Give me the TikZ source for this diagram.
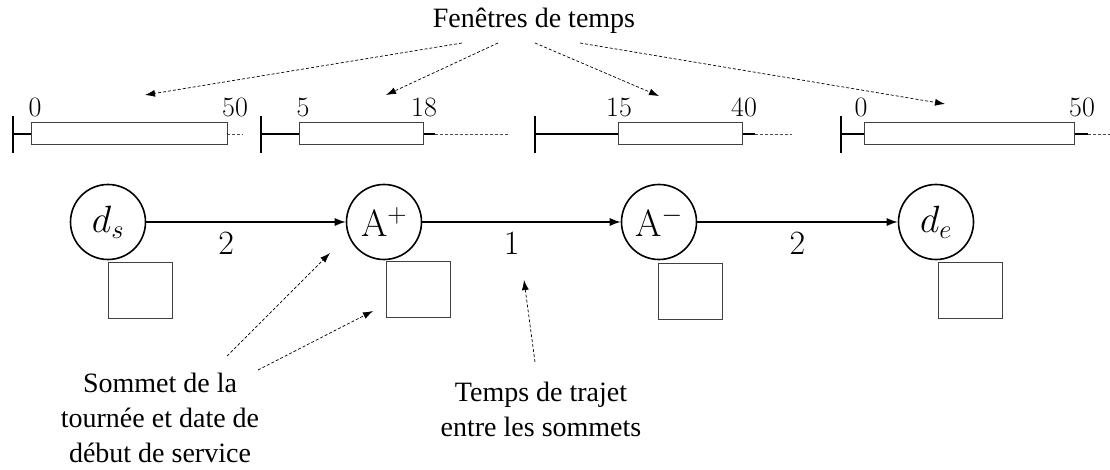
\RequirePackage{fix-cm}
\documentclass[tikz,border=0pt]{standalone}
\usepackage{fontspec}
\newfontfamily\tnr{Liberation Serif}
\usetikzlibrary{arrows.meta}
\begin{document}
\begin{tikzpicture}[x=1pt,y=-1pt,
  vertex/.style={circle, draw, line width=1.6pt, minimum size=75pt, inner sep=0pt, font=\fontsize{38}{42}\selectfont},
  datebox/.style={draw=black!75, line width=1pt, minimum width=64pt, minimum height=56pt, inner sep=0pt, anchor=north west},
  winbox/.style={draw=black!75, line width=1pt, minimum height=22pt, inner sep=0pt, anchor=west},
  wlabel/.style={font=\fontsize{28}{30}\selectfont, anchor=base, inner sep=0pt},
  note/.style={font=\tnr\fontsize{28}{35}\selectfont, align=center, anchor=base, inner sep=0pt},
  pointer/.style={dash pattern=on 3pt off 2pt, line width=0.7pt, -{Latex[length=10pt,width=7pt]}},
  flow/.style={line width=1.2pt, -{Latex[length=11pt,width=8pt]}},
  tickline/.style={line width=1.4pt},
  stem/.style={line width=1.2pt},
  tail/.style={line width=0.8pt, dash pattern=on 3pt off 2pt, draw=black!70},
  cost/.style={font=\fontsize{34}{38}\selectfont, inner sep=0pt}
]
\useasboundingbox (0,0) rectangle (1110,470);

% time windows
\foreach \i/\t/\l/\r/\s/\d in {1/13/31/227/227/243, 2/261/299/423/435/508, 3/535/618/742/755/792, 4/841/864/1074/1088/1110}{
  \coordinate (t\i) at (\t,134);
  \coordinate (ts\i) at (\t,116);
  \coordinate (te\i) at (\t,153);
  \pgfmathsetmacro{\w}{\r-\l}
  \node[winbox, minimum width=\w pt] (w\i) at (\l,134) {};
  \coordinate (s\i) at (\s,134);
  \coordinate (d\i) at (\d,134);
  \draw[tickline] (ts\i) -- (te\i);
  \draw[stem] (t\i) -- (w\i.west);
  \draw[stem] (w\i.east) -- (s\i);
  \draw[tail] (s\i) -- (d\i);
}
\node[wlabel] (l1a) at (35,117) {0};
\node[wlabel] (l1b) at (235,117) {50};
\node[wlabel] (l2a) at (303,117) {5};
\node[wlabel] (l2b) at (424,117) {18};
\node[wlabel] (l3a) at (619,117) {15};
\node[wlabel] (l3b) at (744,117) {40};
\node[wlabel] (l4a) at (861,117) {0};
\node[wlabel] (l4b) at (1082,117) {50};

% title and pointers
\node[note] (title) at (534,28) {Fenêtres de temps};
\coordinate (p1s) at (462,43); \coordinate (p1e) at (145,95);
\coordinate (p2s) at (498,43); \coordinate (p2e) at (386,95);
\coordinate (p3s) at (535,43); \coordinate (p3e) at (659,96);
\coordinate (p4s) at (580,43); \coordinate (p4e) at (945,104);
\draw[pointer] (p1s) -- (p1e);
\draw[pointer] (p2s) -- (p2e);
\draw[pointer] (p3s) -- (p3e);
\draw[pointer] (p4s) -- (p4e);

% route
\node[vertex] (ds) at (108,222) {$d_s$};
\node[vertex] (ap) at (384,222) {$\mathrm{A}^{+}$};
\node[vertex] (am) at (659,222) {$\mathrm{A}^{-}$};
\node[vertex] (de) at (936,222) {$d_e$};
\draw[flow] (ds) -- node[cost, pos=0.40, yshift=-21pt] (c1) {2} (ap);
\draw[flow] (ap) -- node[cost, pos=0.45, yshift=-21pt] (c2) {1} (am);
\draw[flow] (am) -- node[cost, pos=0.50, yshift=-21pt] (c3) {2} (de);

\node[datebox] (b1) at (108,262) {};
\node[datebox] (b2) at (386,261) {};
\node[datebox] (b3) at (658,263) {};
\node[datebox] (b4) at (938,262) {};

% notes (anchor base = baseline of last line)
\node[note] (n1) at (160,462) {Sommet de la\\tournée et date de\\début de service};
\node[note] (n2) at (541,436) {Temps de trajet\\entre les sommets};
\coordinate (q1s) at (227,356); \coordinate (q1e) at (330,253);
\coordinate (q2s) at (258,370); \coordinate (q2e) at (373,311);
\coordinate (q3s) at (535,362); \coordinate (q3e) at (524,280);
\draw[pointer] (q1s) -- (q1e);
\draw[pointer] (q2s) -- (q2e);
\draw[pointer] (q3s) -- (q3e);
\end{tikzpicture}
\end{document}
